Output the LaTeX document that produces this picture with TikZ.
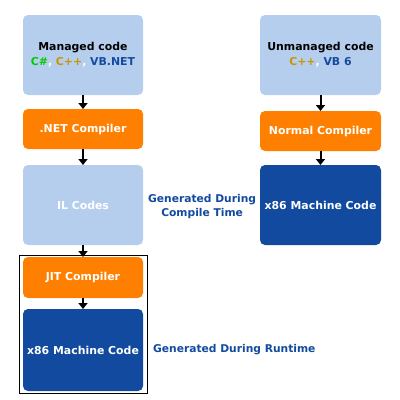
\documentclass[tikz,border=0pt]{standalone}
\usepackage{fontspec}
\setmainfont{DejaVu Sans}
\usetikzlibrary{
    positioning,
    fit,
    arrows.meta
}
\definecolor{lightbox}{RGB}{182,206,238}
\definecolor{orangebox}{RGB}{255,128,0}
\definecolor{darkbox}{RGB}{17,74,158}
\definecolor{csgreen}{RGB}{0,204,0}
\definecolor{cppgold}{RGB}{200,150,0}
\definecolor{vbblue}{RGB}{20,75,160}
\def\vsep{14pt}
\tikzset{
    base/.style={
        rounded corners=5pt,
        minimum width  = 120pt,
        inner sep=0pt,
        outer sep=0pt,
        align=center,
        font=\fontsize{10.9}{15}\selectfont\bfseries,
    },
    source/.style = {
        base,
        fill=lightbox,
        minimum height = 80pt
    },
    compiler/.style = {
        base,
        fill=orangebox,
        text=white,
        minimum height = 40pt
    },
    machine/.style = {
        base,
        fill=darkbox,
        text=white,
        minimum height = 80pt
    },
    comment/.style = {
        align=center,
        inner sep=0pt,
        text=darkbox,
        font=\fontsize{10.7}{14}\selectfont\bfseries,
    },
    flow/.style = {
        line width=2pt,
        -{Triangle[width=9pt,length=6pt]}
    },
}
\begin{document}
\begin{tikzpicture}[x=1pt,y=1pt]
        \useasboundingbox (0,0) rectangle (400,-400);

        \node (managed) [source] at (83,-55) {Managed code\\
            \textcolor{csgreen}{C\#}\textcolor{white}{,}
            \textcolor{cppgold}{C++}\textcolor{white}{,}
            \textcolor{vbblue}{VB.NET}};
        \node (net) [below=\vsep of managed, compiler] {.NET Compiler};
        \node (il) [below=16pt of net, source, text=white] {IL Codes};
        \node (jit) [below=12pt of il, compiler, minimum height=41pt] {JIT Compiler};
        \node (mcl) [below=11pt of jit, machine, minimum height=82pt] {x86 Machine Code};

        \node (unmanaged) [source, minimum width=121pt] at (320.5,-55) {Unmanaged code\\
            \textcolor{cppgold}{C++}\textcolor{white}{,}
            \textcolor{vbblue}{VB 6}};
        \node (normal) [below=16pt of unmanaged, compiler, minimum width=121pt] {Normal Compiler};
        \node (mcr) [below=\vsep of normal, machine, minimum width=121pt] {x86 Machine Code};

        \node (runframe) [draw, line width=1pt, inner xsep=4pt, inner ysep=2pt, fit=(jit)(mcl)] {};

        \node (ctime) [right=5pt of il, comment, yshift=-2pt] {Generated During\\Compile Time};
        \node (rtime) [right=10pt of mcl, comment] {Generated During Runtime};

        \draw [flow](managed) to (net);
        \draw [flow](net) to (il);
        \draw [flow](il) to (jit);
        \draw [flow](jit) to (mcl);
        \draw [flow](unmanaged) to (normal);
        \draw [flow](normal) to (mcr);

    \end{tikzpicture}
\end{document}
